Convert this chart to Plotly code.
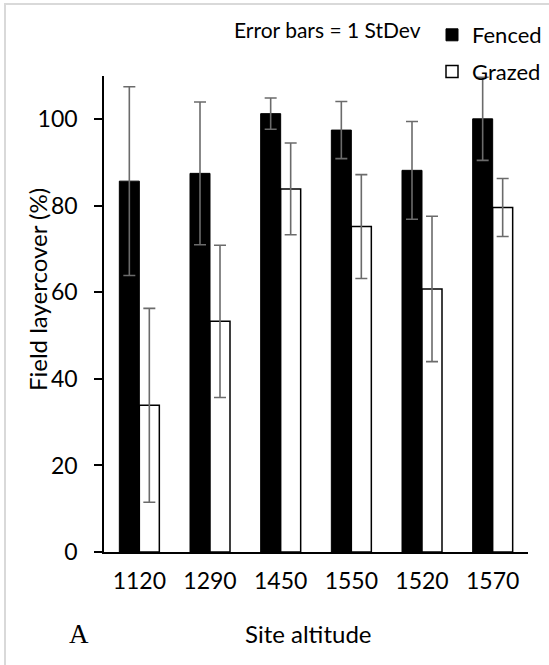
import plotly.graph_objects as go

categories = ["1120", "1290", "1450", "1550", "1520", "1570"]
fenced = [85.7, 87.5, 101.3, 97.5, 88.2, 100.1]
fenced_sd = [21.8, 16.5, 3.6, 6.6, 11.3, 9.6]
grazed = [33.9, 53.3, 83.9, 75.2, 60.8, 79.6]
grazed_sd = [22.4, 17.6, 10.6, 12.0, 16.8, 6.7]
y_ticks = [0, 20, 40, 60, 80, 100]

FONT = "Lato"
W, H = 549, 665
L, R, T, B = 104, 21, 76, 113
pw = W - L - R
ph = H - T - B

def px_x(x):
    return (x - L) / pw

def px_y(y):
    return (H - B - y) / ph

err_style = dict(type="data", color="#6b6b6b", thickness=1.6, width=6)

fig = go.Figure()
fig.add_trace(go.Bar(
    name="Fenced", x=categories, y=fenced,
    error_y=dict(array=fenced_sd, **err_style),
    marker=dict(color="black", line=dict(color="black", width=1)),
    legendgroup="f",
))
fig.add_trace(go.Bar(
    name="Grazed", x=categories, y=grazed,
    error_y=dict(array=grazed_sd, **err_style),
    marker=dict(color="white", line=dict(color="black", width=1.5)),
    legendgroup="g",
))

ann = dict(xref="paper", yref="paper", showarrow=False,
           xanchor="center", yanchor="middle")

fig.update_layout(
    width=W, height=H,
    margin=dict(l=L, r=R, t=T, b=B, autoexpand=False),
    paper_bgcolor="white", plot_bgcolor="white",
    barmode="group", bargap=0.434, bargroupgap=0,
    font=dict(family=FONT, size=22, color="black"),
    showlegend=True,
    legend=dict(
        x=px_x(432), y=px_y(14), xanchor="left", yanchor="top",
        font=dict(family=FONT, size=22, color="black"),
        bgcolor="rgba(0,0,0,0)", tracegroupgap=5,
        traceorder="grouped",
    ),
    xaxis=dict(
        showline=True, linecolor="black", linewidth=1.5,
        ticks="", showgrid=False, zeroline=False,
        tickfont=dict(family=FONT, size=23, color="black"),
        ticklabelstandoff=8,
    ),
    yaxis=dict(
        range=[0, 110], tickvals=y_ticks,
        showline=True, linecolor="black", linewidth=1.5,
        ticks="outside", ticklen=8, tickwidth=1.5, tickcolor="black",
        showgrid=False, zeroline=False,
        tickfont=dict(family=FONT, size=23, color="black"),
        ticklabelstandoff=12,
    ),
    annotations=[
        dict(text="Error bars = 1 StDev", x=px_x(327), y=px_y(30),
             font=dict(family=FONT, size=21, color="black"), **ann),
        dict(text="Field layercover (%)", x=px_x(37), y=px_y(290),
             textangle=-90,
             font=dict(family=FONT, size=24, color="black"), **ann),
        dict(text="Site altitude", x=px_x(308), y=px_y(633),
             font=dict(family=FONT, size=24, color="black"), **ann),
        dict(text="A", x=px_x(79), y=px_y(634),
             font=dict(family="Liberation Serif", size=27, color="black"), **ann),
    ],
    shapes=[
        dict(type="rect", xref="paper", yref="paper",
             x0=px_x(5), x1=px_x(W + 20), y0=px_y(H + 20), y1=px_y(4),
             line=dict(color="#d9d9d9", width=2), layer="below"),
    ],
)

fig.write_html("out.html")
